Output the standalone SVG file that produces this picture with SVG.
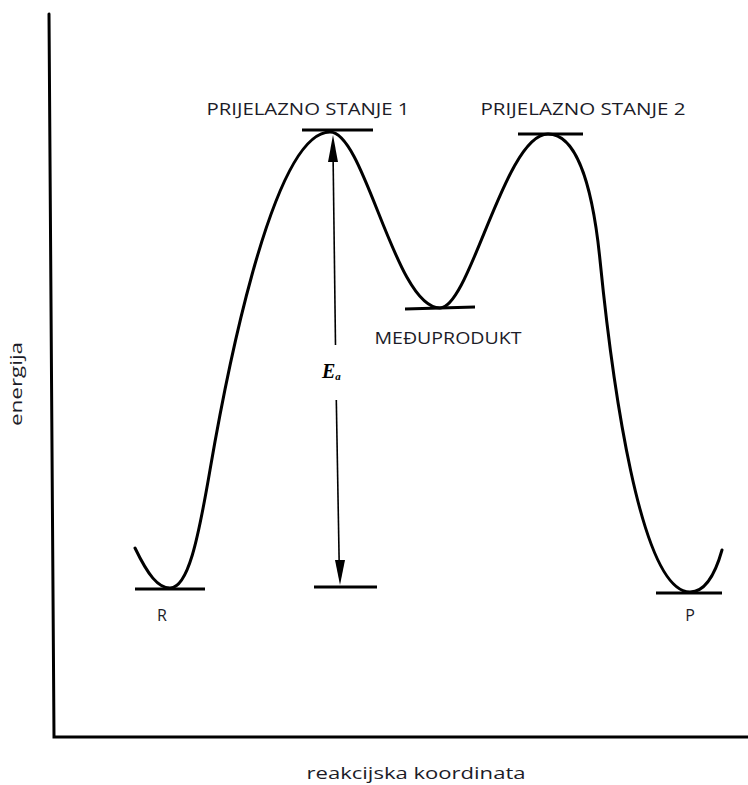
<svg xmlns="http://www.w3.org/2000/svg" width="748" height="785" viewBox="0 0 748 785">
<style>
.lbl{font-family:"Open Sans","Liberation Sans",sans-serif;font-size:16px;fill:#1c1c28}
.ln{stroke:#000;stroke-width:3;fill:none;stroke-linecap:round}
.lvl{stroke:#000;stroke-width:3;fill:none}
</style>
<rect width="748" height="785" fill="#fff"/>
<g id="axes">
<path class="ln" d="M49,14 L54,737 L748,737" stroke-linecap="butt"/>
</g>
<g id="connectors">
<path id="curve" class="ln" stroke-width="2.6" d="M135,548 C148,575 158,588 170,588 C188,588 198,540 210,470 C222,400 270,132 330,132 C365,132 395,308 440,308 C470,308 505,134 548,134 C575,134 592,180 600,260 C612,380 640,592 690,592 C705,592 715,575 722,550"/>
<g id="ea-arrow">
<line x1="333" y1="150" x2="335.5" y2="345" stroke="#000" stroke-width="1.6"/>
<line x1="336.3" y1="400" x2="339.3" y2="570" stroke="#000" stroke-width="1.6"/>
<polygon points="333,135 328,162 338,162" fill="#000"/>
<polygon points="340,585 335,560 345,560" fill="#000"/>
</g>
</g>
<g id="R">
<line class="lvl" x1="135" y1="589" x2="205" y2="589"/>
<text class="lbl" x="162" y="621" text-anchor="middle">R</text>
</g>
<g id="ts1">
<line class="lvl" x1="302" y1="130" x2="373" y2="130"/>
<text class="lbl" x="308" y="115" text-anchor="middle" textLength="203" lengthAdjust="spacingAndGlyphs">PRIJELAZNO STANJE 1</text>
</g>
<g id="intermediate">
<line class="lvl" x1="405" y1="309" x2="475" y2="307"/>
<text class="lbl" x="448" y="344" text-anchor="middle" textLength="147" lengthAdjust="spacingAndGlyphs">MEĐUPRODUKT</text>
</g>
<g id="ts2">
<line class="lvl" x1="518" y1="134" x2="583" y2="134"/>
<text class="lbl" x="583" y="115" text-anchor="middle" textLength="205" lengthAdjust="spacingAndGlyphs">PRIJELAZNO STANJE 2</text>
</g>
<g id="ea-base">
<line class="lvl" x1="314" y1="587" x2="377" y2="587"/>
</g>
<g id="ea-label">
<text x="322" y="378" font-family="Liberation Serif,serif" font-style="italic" font-weight="bold" font-size="20" fill="#000">E<tspan font-size="11" dy="2">a</tspan></text>
</g>
<g id="P">
<line class="lvl" x1="656" y1="593" x2="722" y2="593"/>
<text class="lbl" x="690" y="621" text-anchor="middle">P</text>
</g>
<g id="axis-labels">
<text class="lbl" x="0" y="0" text-anchor="middle" transform="translate(22,384) rotate(-90)" textLength="84" lengthAdjust="spacingAndGlyphs">energija</text>
<text class="lbl" x="416" y="779" text-anchor="middle" textLength="219" lengthAdjust="spacingAndGlyphs">reakcijska koordinata</text>
</g>
</svg>
